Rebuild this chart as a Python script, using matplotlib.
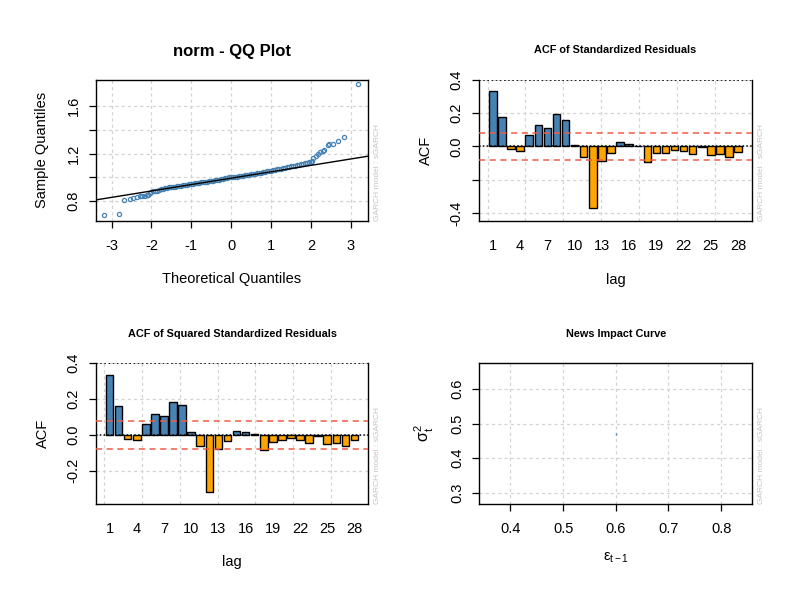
import matplotlib
matplotlib.use("Agg")
import matplotlib.pyplot as plt
import numpy as np

plt.rcParams["font.family"] = ["Liberation Sans", "DejaVu Sans"]
plt.rcParams["mathtext.fontset"] = "custom"
plt.rcParams["mathtext.rm"] = "Liberation Sans"
plt.rcParams["mathtext.it"] = "Liberation Sans"
plt.rcParams["axes.unicode_minus"] = False

# ---- QQ plot data (theoretical quantile, sample quantile) ----
qq_theo = [-3.18, -2.82, -2.68, -2.55, -2.46, -2.37, -2.29, -2.23, -2.17, -2.12, -2.08, -2.05, -2.01,
           -1.95, -1.90, -1.85, -1.80, -1.75, -1.70, -1.65, -1.60, -1.55, -1.50, -1.45, -1.40,
           -1.35, -1.30, -1.25, -1.20, -1.15, -1.10, -1.05, -1.00, -0.95, -0.90, -0.85, -0.80,
           -0.75, -0.70, -0.65, -0.60, -0.55, -0.50, -0.45, -0.40, -0.35, -0.30, -0.25, -0.20,
           -0.15, -0.10, -0.05, 0.00, 0.05, 0.10, 0.15, 0.20, 0.25, 0.30, 0.35, 0.40, 0.45,
           0.50, 0.55, 0.60, 0.65, 0.70, 0.75, 0.80, 0.85, 0.90, 0.95, 1.00, 1.05, 1.10, 1.15,
           1.20, 1.25, 1.30, 1.35, 1.40, 1.45, 1.50, 1.55, 1.60, 1.65, 1.70, 1.75, 1.80, 1.85,
           1.90, 1.95, 2.00, 2.02, 2.06, 2.12, 2.17, 2.23, 2.30, 2.34, 2.42, 2.46, 2.56, 2.68,
           2.83, 3.19]
qq_sample = [0.685, 0.696, 0.811, 0.820, 0.831, 0.836, 0.842, 0.846, 0.848, 0.849, 0.852, 0.866, 0.878,
             0.883, 0.886, 0.889, 0.894, 0.900, 0.905, 0.908, 0.912, 0.916, 0.918, 0.921, 0.924,
             0.927, 0.929, 0.932, 0.935, 0.937, 0.940, 0.943, 0.945, 0.948, 0.951, 0.953, 0.956,
             0.959, 0.961, 0.964, 0.966, 0.968, 0.970, 0.972, 0.975, 0.977, 0.980, 0.984, 0.988,
             0.994, 0.999, 1.002, 1.004, 1.005, 1.005, 1.006, 1.009, 1.011, 1.015, 1.018, 1.020, 1.023,
             1.026, 1.029, 1.031, 1.034, 1.037, 1.040, 1.044, 1.048, 1.050, 1.053, 1.056, 1.059, 1.063,
             1.067, 1.070, 1.074, 1.078, 1.082, 1.085, 1.089, 1.093, 1.096, 1.100, 1.104, 1.107, 1.111,
             1.115, 1.118, 1.122, 1.127, 1.132, 1.142, 1.161, 1.180, 1.197, 1.211, 1.225, 1.233,
             1.273, 1.284, 1.284, 1.309, 1.343, 1.784]
qq_intercept = 0.994
qq_slope = 0.0537

# ---- ACF data ----
lags = list(range(1, 29))
acf_std = [0.332, 0.177, -0.018, -0.030, 0.066, 0.125, 0.113, 0.191, 0.155, 0.006,
           -0.066, -0.370, -0.090, -0.042, 0.024, 0.012, 0.002, -0.096, -0.042, -0.042,
           -0.024, -0.030, -0.048, -0.004, -0.054, -0.048, -0.066, -0.036]
acf_sq = [0.335, 0.162, -0.022, -0.030, 0.061, 0.117, 0.106, 0.184, 0.168, 0.017,
          -0.063, -0.320, -0.080, -0.035, 0.024, 0.017, 0.006, -0.086, -0.041, -0.030,
          -0.019, -0.030, -0.047, -0.006, -0.052, -0.047, -0.063, -0.030]
conf_std = 0.079
conf_sq = 0.076

# ---- news impact curve (degenerate: a single point) ----
nic_eps = [0.6]
nic_sig = [0.4714]

GRID = dict(color="#D3D3D3", linestyle=(0, (2.5, 2.5)), linewidth=0.9)
WATERMARK = "GARCH model : sGARCH"
FS = 10.5


def px_axes(fig, l, t, r, b):
    W, H = 800, 600
    return fig.add_axes([l / W, 1 - b / H, (r - l) / W, (b - t) / H])


def style(ax, xticks=True):
    for s in ax.spines.values():
        s.set_linewidth(1.0)
    ax.tick_params(axis="y", length=5, width=0.9, labelsize=FS, pad=6, labelrotation=90)
    for lab in ax.get_yticklabels():
        lab.set_va("center")
    if xticks:
        ax.tick_params(axis="x", length=5, width=0.9, labelsize=FS, pad=8)
    else:
        ax.tick_params(axis="x", length=0, labelsize=FS, pad=13)


def watermark(ax):
    ax.text(1.035, 0.0, WATERMARK, transform=ax.transAxes, rotation=90,
            ha="center", va="bottom", fontsize=6.0, color="#C4C4C4")


def acf_panel(ax, vals, conf, title, yticks, ylabels, ylim):
    ax.set_xlim(-0.53, 29.53)
    ax.set_ylim(*ylim)
    for gx in 1 + (np.arange(0, 31, 5) - 0.7) / 1.2:
        ax.axvline(gx, zorder=0, **GRID)
    for gy in yticks:
        ax.axhline(gy, zorder=0, **GRID)
    cols = ["steelblue" if v > 0 else "orange" for v in vals]
    ax.bar(lags, vals, width=1 / 1.2, color=cols, edgecolor="black", linewidth=1.0, zorder=2)
    ax.axhline(conf, color="#F25C45", linestyle=(0, (4, 3)), linewidth=1.1, zorder=3)
    ax.axhline(-conf, color="#F25C45", linestyle=(0, (4, 3)), linewidth=1.1, zorder=3)
    ax.axhline(0, color="black", linestyle=(0, (1, 1.5)), linewidth=1.1, zorder=3)
    ax.axhline(0.4, color="black", linestyle=(0, (1, 1.5)), linewidth=1.2, zorder=3)
    ax.spines["top"].set_visible(False)
    ax.set_xticks(lags[::3])
    ax.set_yticks(yticks)
    ax.set_yticklabels(ylabels)
    style(ax, xticks=False)
    ax.set_title(title, fontsize=7.8, fontweight="bold", pad=19)
    ax.set_xlabel("lag", fontsize=FS, labelpad=14)
    ax.set_ylabel("ACF", fontsize=FS, labelpad=12)
    watermark(ax)


fig = plt.figure(figsize=(8, 6), dpi=100)

# QQ plot
ax = px_axes(fig, 95.7, 80, 368.3, 220.7)
ax.set_xlim(-3.40, 3.44)
ax.set_ylim(0.637, 1.818)
for gx in range(-3, 4):
    ax.axvline(gx, zorder=0, **GRID)
for gy in [0.8, 1.0, 1.2, 1.4, 1.6]:
    ax.axhline(gy, zorder=0, **GRID)
ax.plot(qq_theo, qq_sample, linestyle="none", marker="o", markersize=3.0,
        markerfacecolor="none", markeredgecolor="steelblue", markeredgewidth=0.9, zorder=2)
ax.axline((0, qq_intercept), slope=qq_slope, color="black", linewidth=1.0, zorder=3)
ax.set_xticks(range(-3, 4))
ax.set_yticks([0.8, 1.0, 1.2, 1.4, 1.6])
ax.set_yticklabels(["0.8", "", "1.2", "", "1.6"])
style(ax)
ax.set_title("norm - QQ Plot", fontsize=12, fontweight="bold", pad=17)
ax.set_xlabel("Theoretical Quantiles", fontsize=FS, labelpad=14)
ax.set_ylabel("Sample Quantiles", fontsize=FS, labelpad=12.5)
watermark(ax)

# ACF standardized residuals
ax = px_axes(fig, 479, 79.5, 752, 221)
acf_panel(ax, acf_std, conf_std, "ACF of Standardized Residuals",
          [-0.4, -0.2, 0.0, 0.2, 0.4], ["-0.4", "", "0.0", "0.2", "0.4"], (-0.446, 0.4))

# ACF squared standardized residuals
ax = px_axes(fig, 95.7, 363.3, 368.3, 503.7)
acf_panel(ax, acf_sq, conf_sq, "ACF of Squared Standardized Residuals",
          [-0.2, 0.0, 0.2, 0.4], ["-0.2", "0.0", "0.2", "0.4"], (-0.384, 0.4))

# News impact curve
ax = px_axes(fig, 479.3, 363.3, 752.3, 503.7)
ax.set_xlim(0.3408, 0.8592)
ax.set_ylim(0.2677, 0.6751)
for gx in [0.4, 0.5, 0.6, 0.7, 0.8]:
    ax.axvline(gx, zorder=0, **GRID)
for gy in [0.3, 0.4, 0.5, 0.6]:
    ax.axhline(gy, zorder=0, **GRID)
ax.plot(nic_eps, nic_sig, color="steelblue", marker="|", markersize=2, linewidth=0.5)
ax.set_xticks([0.4, 0.5, 0.6, 0.7, 0.8])
ax.set_yticks([0.3, 0.4, 0.5, 0.6])
style(ax)
ax.set_title("News Impact Curve", fontsize=7.8, fontweight="bold", pad=19)
ax.set_xlabel("\u03b5$_{\\mathrm{t-1}}$", fontsize=FS, labelpad=11)
ax.set_ylabel("\u03c3$_{\\mathrm{t}}^{2}$", fontsize=FS + 1, labelpad=10)
watermark(ax)

fig.savefig("out.png", dpi=100)
